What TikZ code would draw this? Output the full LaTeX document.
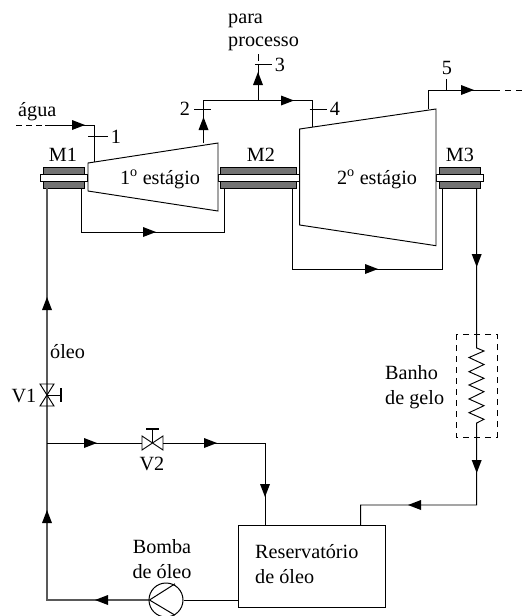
\documentclass[tikz,border=0pt]{standalone}
\usepackage{fontspec}
\setmainfont{Liberation Serif}
\tikzset{
  pipe/.style={draw=black,line width=0.95pt},
  oilpipe/.style={draw=black!65,line width=1.5pt},
  bearing/.style={draw=black,line width=0.8pt,fill=black!55},
  shaft/.style={draw=black,line width=0.8pt,fill=white},
  turbine/.style={draw=black,line width=0.95pt,fill=white},
  txt/.style={inner sep=0pt,font=\fontsize{20.2}{24}\selectfont},
  bath/.style={draw=black,line width=0.9pt,dash pattern=on 6pt off 5pt},
  reservoir/.style={draw=black,line width=1pt,minimum width=147pt,minimum height=82pt,inner sep=0pt},
  pump/.style={draw=black,line width=1pt,circle,minimum size=34pt,inner sep=0pt}
}
\newcommand{\fr}[2]{\fill[black] (#1,#2) -- ++(-13,-5) -- ++(0,10) -- cycle;}
\newcommand{\fl}[2]{\fill[black] (#1,#2) -- ++(13,-5) -- ++(0,10) -- cycle;}
\newcommand{\fu}[2]{\fill[black] (#1,#2) -- ++(-5,13) -- ++(10,0) -- cycle;}
\newcommand{\fd}[2]{\fill[black] (#1,#2) -- ++(-5,-13) -- ++(10,0) -- cycle;}
\begin{document}
\begin{tikzpicture}[x=1pt,y=-1pt]
\useasboundingbox (0,0) rectangle (528,616);
% oil return legs
\draw[pipe] (81,188) -- (81,232) -- (224,232) -- (224,188);
\draw[pipe] (292.7,188) -- (292.7,269) -- (442.7,269) -- (442.7,188);
\fr{156}{232} \fr{378}{269}
% bearings
\foreach \a/\b in {43.3/84.3,220.7/296,439.7/480}{
  \draw[bearing] (\a,167) rectangle (\b,174);
  \draw[bearing] (\a,181) rectangle (\b,188);
}
\draw[shaft] (40,174) rectangle (87,181);
\draw[shaft] (218,174) rectangle (300,181);
\draw[shaft] (436,174) rectangle (483.7,181);
% turbines
\draw[turbine] (88,163) -- (218,143) -- (218,211) -- (88,191) -- cycle;
\draw[turbine] (299.7,129) -- (436,109) -- (436,245.7) -- (299.7,225) -- cycle;
\node[txt,anchor=base] (t1) at (160,184) {1\textsuperscript{o} estágio};
\node[txt,anchor=base] (t2) at (377,184) {2\textsuperscript{o} estágio};
% steam
\draw[pipe,dash pattern=on 6pt off 4pt] (16,125) -- (45,125);
\draw[pipe] (45,125) -- (94.5,125) -- (94.5,162);
\fr{85}{125}
\draw[pipe] (88,136.5) -- (108,136.5);
\draw[pipe] (203.5,143) -- (203.5,100.5) -- (312.7,100.5) -- (312.7,127);
\fu{203.5}{117} \fr{294}{100.5}
\draw[pipe] (194,109) -- (211,109);
\draw[pipe] (309.7,109) -- (327,109);
\draw[pipe] (258,100.5) -- (258,64);
\draw[pipe] (258,54) -- (258,61);
\fu{258}{72}
\draw[pipe] (255,64) -- (272,64);
\draw[pipe] (428.7,109) -- (428.7,90) -- (494,90);
\draw[pipe,dash pattern=on 6pt off 5pt] (494,90) -- (524,90);
\fr{474}{90}
\draw[pipe] (446,79) -- (446,91);
% oil main
\draw[oilpipe] (47,188) -- (47,600) -- (149,600);
\fu{47}{510} \fu{47}{297} \fl{95}{600}
% pump
\node[pump] (pumpnode) at (166,600) {};
\draw[line width=1pt] (149.5,600) -- (175,583.8) (149.5,600) -- (175,615.2);
\node[reservoir,anchor=north west] (res) at (237.7,525) {};
\draw[pipe] (pumpnode.east) -- (res.west |- pumpnode.east);
% V1
\draw[pipe] (40,384) -- (54,384) -- (40,406) -- (54,406) -- cycle;
\draw[pipe] (47,395) -- (61,395);
\draw[line width=2pt] (61,388) -- (61,402);
% V2 branch
\draw[pipe] (47,443) -- (142,443) (163,443) -- (265,443) -- (265,525);
\draw[pipe] (142,436) -- (163,450) -- (163,436) -- (142,450) -- cycle;
\draw[pipe] (152.5,443) -- (152.5,429);
\draw[line width=2pt] (146,429) -- (159,429);
\fr{97}{443} \fr{217}{443} \fd{265}{497}
% right side
\draw[pipe] (476.7,188) -- (476.7,348) -- (484,351) -- (469,357.5) -- (484,364.5) -- (469,371.7) -- (484,378.3) -- (469,385) -- (484,391.7) -- (469,399) -- (484,405.7) -- (469,412.7) -- (484,419.3) -- (476.7,423) -- (476.7,505) -- (360.7,505) -- (360.7,525);
\fd{476.7}{267} \fd{476.7}{473} \fl{408}{505}
\draw[bath] (456,334) rectangle (497,437);
% labels
\node[txt,anchor=base west] (l1) at (228,23) {para};
\node[txt,anchor=base west] (l2) at (228,46) {processo};
\node[txt,anchor=base west] (l3) at (18,116) {água};
\node[txt] (n1) at (116,136.5) {1};
\node[txt] (n2) at (185,109) {2};
\node[txt] (n3) at (280,65) {3};
\node[txt] (n4) at (335,109) {4};
\node[txt] (n5) at (447,68) {5};
\node[txt,anchor=base] (m1) at (63,161) {M1};
\node[txt,anchor=base] (m2) at (261,161) {M2};
\node[txt,anchor=base] (m3) at (460,161) {M3};
\node[txt,anchor=base west] (o) at (50,358) {óleo};
\node[txt,anchor=base] (v1) at (24,402) {V1};
\node[txt,anchor=base] (v2) at (152,470) {V2};
\node[txt,anchor=base] (b1) at (162,553) {Bomba};
\node[txt,anchor=base] (b2) at (162,578) {de óleo};
\node[txt,anchor=base west] (r1) at (255,558) {Reservatório};
\node[txt,anchor=base west] (r2) at (255,583) {de óleo};
\node[txt,anchor=base west] (g1) at (385,379) {Banho};
\node[txt,anchor=base west] (g2) at (385,404) {de gelo};
\end{tikzpicture}
\end{document}
